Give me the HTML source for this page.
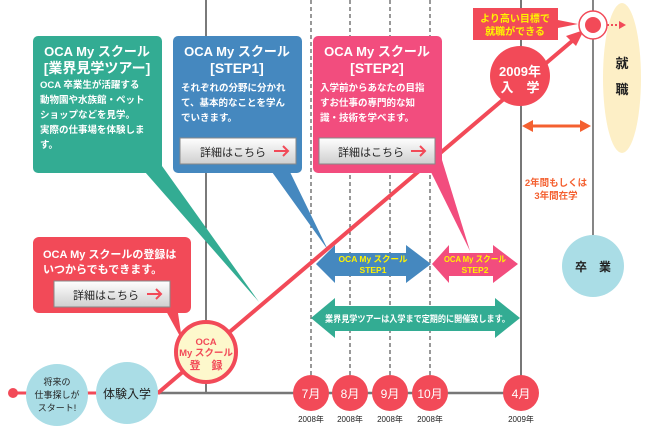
<!DOCTYPE html>
<html><head><meta charset="utf-8"><style>
body{margin:0;background:#fff;width:645px;height:434px;overflow:hidden}
svg{display:block;font-family:"Liberation Sans","Noto Sans CJK JP",sans-serif;font-weight:bold}
</style></head><body>
<svg width="645" height="434" viewBox="0 0 645 434" xmlns="http://www.w3.org/2000/svg">
<defs>
<linearGradient id="btn" x1="0" y1="0" x2="0" y2="1"><stop offset="0" stop-color="#fff"/><stop offset="1" stop-color="#cfcfcf"/></linearGradient>
</defs>
<line x1="206" y1="0" x2="206" y2="393" stroke="#333" stroke-width="1.3"/>
<g stroke="#555" stroke-width="1.2" stroke-dasharray="4,3">
<line x1="311" y1="0" x2="311" y2="380"/><line x1="350" y1="0" x2="350" y2="380"/><line x1="390" y1="0" x2="390" y2="380"/><line x1="430" y1="0" x2="430" y2="380"/>
</g>
<line x1="521" y1="0" x2="521" y2="393" stroke="#777" stroke-width="2"/>
<line x1="593" y1="0" x2="593" y2="240" stroke="#444" stroke-width="1.3"/>
<line x1="160" y1="393" x2="521" y2="393" stroke="#777" stroke-width="2.5"/>
<line x1="13" y1="393" x2="160" y2="393" stroke="#f24a58" stroke-width="3"/>
<circle cx="13" cy="393" r="5" fill="#f24a58"/>
<polygon points="145,172 162,166 259,302" fill="#33ac93"/>
<polygon points="272,172 290,172 328,250" fill="#4588bf"/>
<polygon points="425,160 442,160 470,251" fill="#f24d7e"/>
<polygon points="160,300 178,313 182,340" fill="#f24a58"/>
<polyline points="158,393 206,352 578,36" fill="none" stroke="#f24a58" stroke-width="4"/>
<polygon points="584,30 566,36 576,46" fill="#f24a58"/>
<rect x="33" y="36" width="129" height="137" rx="5" fill="#33ac93"/>
<rect x="173" y="36" width="129" height="137" rx="5" fill="#4588bf"/>
<rect x="313" y="36" width="129" height="137" rx="5" fill="#f24d7e"/>
<g fill="#fff" text-anchor="middle">
<text x="97" y="56" font-size="13">OCA My スクール</text>
<text x="97" y="73" font-size="14">[業界見学ツアー]</text>
<text x="237" y="56" font-size="13">OCA My スクール</text>
<text x="237" y="73" font-size="14">[STEP1]</text>
<text x="377" y="56" font-size="13">OCA My スクール</text>
<text x="377" y="73" font-size="14">[STEP2]</text>
</g>
<g fill="#fff" font-size="9.5">
<text x="40" y="88">OCA 卒業生が活躍する</text>
<text x="40" y="103">動物園や水族館・ペット</text>
<text x="40" y="118">ショップなどを見学。</text>
<text x="40" y="133">実際の仕事場を体験しま</text>
<text x="40" y="148">す。</text>
<text x="181" y="91">それぞれの分野に分かれ</text>
<text x="181" y="106">て、基本的なことを学ん</text>
<text x="181" y="121">でいきます。</text>
<text x="320" y="91">入学前からあなたの目指</text>
<text x="320" y="106">すお仕事の専門的な知</text>
<text x="320" y="121">識・技術を学べます。</text>
</g>
<rect x="33" y="237" width="158" height="76" rx="6" fill="#f24a58"/>
<text x="43" y="258" fill="#fff" font-size="11">OCA My スクールの登録は</text>
<text x="43" y="273" fill="#fff" font-size="11">いつからでもできます。</text>
<g font-size="11" font-weight="normal" fill="#222">
<rect x="180" y="138" width="116" height="26" fill="url(#btn)" stroke="#888"/>
<text x="200" y="156">詳細はこちら</text>
<rect x="319" y="138" width="116" height="26" fill="url(#btn)" stroke="#888"/>
<text x="338" y="156">詳細はこちら</text>
<rect x="54" y="281" width="116" height="26" fill="url(#btn)" stroke="#888"/>
<text x="73" y="299">詳細はこちら</text>
</g>
<g stroke="#f24a58" stroke-width="2" fill="none">
<path d="M274 151h14M283 146l5 5-5 5"/><path d="M411 151h14M420 146l5 5-5 5"/><path d="M147 294h14M156 289l5 5-5 5"/>
</g>
<polygon points="316,264 335,245 335,253 406,253 406,245 431,264 406,283 406,276 335,276 335,283" fill="#4588bf"/>
<polygon points="432,264 449,245 449,253 493,253 493,245 518,264 493,283 493,276 449,276 449,283" fill="#f24d7e"/>
<polygon points="311,318 335,298 335,306 495,306 495,298 520,318 495,338 495,331 335,331 335,338" fill="#33ac93"/>
<g fill="#fff200" font-size="8.5" text-anchor="middle">
<text x="373" y="262">OCA My スクール</text><text x="373" y="273">STEP1</text>
<text x="475" y="262" textLength="62" lengthAdjust="spacingAndGlyphs">OCA My スクール</text><text x="475" y="273">STEP2</text>
</g>
<text x="325" y="322" fill="#fff" font-size="9" textLength="185" lengthAdjust="spacingAndGlyphs">業界見学ツアーは入学まで定期的に開催致します。</text>
<circle cx="57" cy="395" r="31" fill="#aadde6"/>
<g font-size="9" font-weight="normal" fill="#222" text-anchor="middle">
<text x="57" y="385">将来の</text><text x="57" y="398">仕事探しが</text><text x="57" y="411">スタート!</text></g>
<circle cx="127" cy="393" r="31" fill="#aadde6"/>
<text x="127" y="398" font-size="12" font-weight="normal" fill="#222" text-anchor="middle">体験入学</text>
<circle cx="206" cy="352" r="30" fill="#fdf8cc" stroke="#f24a58" stroke-width="4"/>
<g fill="#f24a58" text-anchor="middle" font-size="9.5"><text x="206" y="345">OCA</text><text x="206" y="356">My スクール</text><text x="206" y="369" font-size="11">登　録</text></g>
<g fill="#f24a58"><circle cx="311" cy="393" r="18"/><circle cx="350" cy="393" r="18"/><circle cx="390" cy="393" r="18"/><circle cx="430" cy="393" r="18"/><circle cx="521" cy="393" r="18"/></g>
<g fill="#fff" font-size="12" font-weight="normal" text-anchor="middle">
<text x="311" y="398">7月</text><text x="350" y="398">8月</text><text x="390" y="398">9月</text><text x="430" y="398">10月</text><text x="521" y="398">4月</text></g>
<g fill="#222" font-size="8" font-weight="normal" text-anchor="middle">
<text x="311" y="422">2008年</text><text x="350" y="422">2008年</text><text x="390" y="422">2008年</text><text x="430" y="422">2008年</text><text x="521" y="422">2009年</text></g>
<circle cx="520" cy="76" r="30" fill="#f24a58"/>
<text x="520" y="76" fill="#fff" font-size="13" text-anchor="middle">2009年</text>
<text x="520" y="92" fill="#fff" font-size="13" text-anchor="middle">入　学</text>
<ellipse cx="622" cy="78" rx="19" ry="75" fill="#fdefc6"/>
<text x="622" y="68" font-size="13" text-anchor="middle" fill="#222">就</text>
<text x="622" y="94" font-size="13" text-anchor="middle" fill="#222">職</text>
<polygon points="473,8 558,8 558,20 578,24 558,28 558,40 473,40" fill="#f24a58"/>
<text x="515" y="22" fill="#fff200" font-size="10" text-anchor="middle">より高い目標で</text>
<text x="515" y="35" fill="#fff200" font-size="10" text-anchor="middle">就職ができる</text>
<circle cx="593" cy="25" r="14" fill="#fff" stroke="#f24a58" stroke-width="1.5"/>
<circle cx="593" cy="25" r="8" fill="#f24a58"/>
<line x1="607" y1="25" x2="620" y2="25" stroke="#f24a58" stroke-width="2" stroke-dasharray="2,2"/>
<polygon points="619,21 626,25 619,29" fill="#f24a58"/>
<line x1="530" y1="126" x2="584" y2="126" stroke="#f46030" stroke-width="3"/>
<polygon points="522,126 533,120 533,132" fill="#f46030"/><polygon points="591,126 580,120 580,132" fill="#f46030"/>
<text x="556" y="186" fill="#f46030" font-size="9.5" text-anchor="middle">2年間もしくは</text>
<text x="556" y="199" fill="#f46030" font-size="9.5" text-anchor="middle">3年間在学</text>
<circle cx="593" cy="266" r="31" fill="#aadde6"/>
<text x="593" y="271" font-size="12" text-anchor="middle" fill="#222">卒　業</text>
</svg>
</body></html>
